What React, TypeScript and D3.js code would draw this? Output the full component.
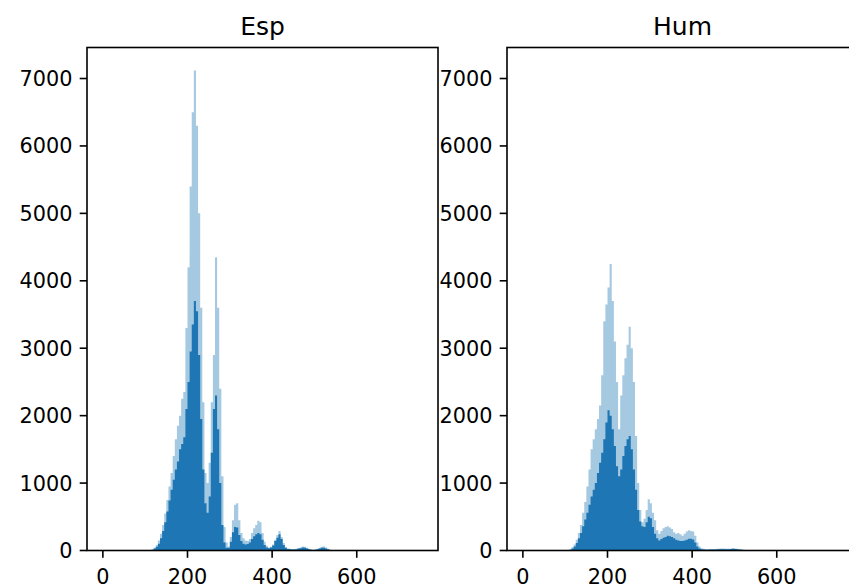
import React from 'react';
import * as d3 from 'd3';

// histogram bins: 5 units wide, first bin starts at 100
const BIN_START = 100;
const BIN_WIDTH = 5;

const espLight = [
  0, 2, 6, 15, 40, 80, 150, 250, 380, 550,
  750, 950, 1150, 1400, 1650, 1850, 2000, 2250, 2350, 3300,
  4200, 5400, 6500, 7120, 6300, 5000, 3600, 2200, 1150, 1000,
  1300, 2200, 2900, 4350, 3600, 2400, 1100, 350, 120, 60,
  200, 450, 680, 700, 450, 260, 180, 150, 140, 170,
  260, 330, 380, 440, 420, 260, 130, 70, 45, 55,
  90, 160, 230, 290, 200, 110, 50, 30, 25, 20,
  20, 25, 35, 45, 60, 55, 40, 25, 15, 12,
  15, 25, 40, 55, 60, 45, 25, 12, 8, 5,
  4, 4, 3, 3, 2, 2, 3, 3, 2, 2,
  3, 4, 5, 6, 5, 4, 3, 2, 1, 0,
];

const espDark = [
  0, 1, 4, 10, 28, 55, 100, 180, 290, 420,
  580, 740, 900, 1050, 1200, 1320, 1500, 1580, 1680, 2100,
  2500, 2950, 3350, 3700, 3550, 2900, 1950, 1200, 700, 560,
  800, 1450, 2100, 2300, 1800, 1000, 380, 120, 40, 40,
  130, 270, 350, 340, 230, 140, 100, 90, 95, 120,
  170, 210, 240, 260, 240, 160, 80, 45, 35, 45,
  75, 140, 190, 240, 170, 80, 40, 22, 18, 15,
  15, 20, 28, 35, 45, 40, 30, 18, 10, 8,
  10, 18, 28, 40, 42, 30, 18, 8, 5, 3,
  3, 2, 2, 2, 1, 1, 2, 2, 1, 1,
  2, 2, 3, 3, 3, 2, 2, 1, 1, 0,
];

const humLight = [
  2, 8, 20, 50, 90, 160, 260, 380, 560, 720,
  950, 1200, 1500, 1650, 1800, 1950, 2150, 2600, 3400, 3650,
  3900, 4250, 3700, 3100, 2500, 1800, 2300, 2600, 2850, 3050,
  3320, 3000, 2500, 1700, 1000, 600, 420, 470, 600, 760,
  700, 560, 450, 300, 250, 290, 330, 350, 360, 340,
  320, 270, 250, 260, 240, 220, 250, 280, 300, 290,
  280, 220, 120, 60, 35, 25, 20, 20, 22, 20,
  20, 25, 25, 28, 30, 30, 25, 25, 30, 35,
  30, 25, 20, 15, 10, 8, 5, 4, 3, 3,
  2, 2, 2, 1, 1, 1, 1, 1, 1, 1,
  2, 3, 3, 2, 2, 1, 1, 0, 0, 0,
];

const humDark = [
  1, 5, 12, 30, 60, 110, 180, 260, 360, 460,
  560, 680, 800, 900, 1000, 1150, 1300, 1450, 1650, 1900,
  2080, 2000, 1800, 1550, 1250, 1100, 1200, 1400, 1550, 1650,
  1700, 1500, 1200, 900, 600, 430, 360, 350, 420, 500,
  480, 350, 250, 180, 150, 170, 190, 200, 220, 210,
  200, 180, 160, 150, 140, 140, 150, 160, 175, 175,
  165, 120, 60, 30, 20, 15, 12, 12, 14, 14,
  14, 16, 18, 20, 20, 20, 18, 18, 22, 25,
  22, 18, 14, 10, 7, 5, 3, 3, 2, 2,
  1, 1, 1, 1, 1, 1, 1, 1, 0, 0,
  1, 2, 2, 1, 1, 1, 0, 0, 0, 0,
];

const titles = ['Esp', 'Hum'];
const xTicks = [0, 200, 400, 600];
const yTicks = [0, 1000, 2000, 3000, 4000, 5000, 6000, 7000];

const W = 849;
const H = 587;
const TOP = 47.5;
const BOTTOM = 550.5;
const PANEL_W = 351;
const panelLefts = [87, 507];
const BLUE = '#1f77b4';
const FONT = '"DejaVu Sans", sans-serif';
const TICK = 7.3;

type Pt = [number, number];

function toPoints(vals: number[]): Pt[] {
  const pts: Pt[] = vals.map((v, i) => [BIN_START + i * BIN_WIDTH, v]);
  pts.push([BIN_START + vals.length * BIN_WIDTH, 0]);
  return pts;
}

function Panel({ idx, light, dark }: { idx: number; light: number[]; dark: number[] }) {
  const left = panelLefts[idx];
  const x = d3.scaleLinear().domain([-37.5, 792]).range([left, left + PANEL_W]);
  const y = d3.scaleLinear().domain([0, 7460]).range([BOTTOM, TOP]);
  const area = d3
    .area<Pt>()
    .x(d => x(d[0]))
    .y0(y(0))
    .y1(d => y(d[1]))
    .curve(d3.curveStepAfter);
  const clipId = `clip-${idx}`;

  return (
    <g>
      <clipPath id={clipId}>
        <rect x={left} y={TOP} width={PANEL_W} height={BOTTOM - TOP} />
      </clipPath>
      <g clipPath={`url(#${clipId})`}>
        <path d={area(toPoints(dark)) || ''} fill={BLUE} />
        <path d={area(toPoints(light)) || ''} fill={BLUE} fillOpacity={0.4} />
      </g>

      {/* ticks */}
      {yTicks.map(t => (
        <g key={'y' + t}>
          <line x1={left - TICK} x2={left} y1={y(t)} y2={y(t)} stroke="#000" strokeWidth={1.6} />
          <text
            x={left - TICK * 2}
            y={y(t)}
            dy="0.36em"
            textAnchor="end"
            fontSize={20.8}
            fontFamily={FONT}
            fill="#000"
          >
            {t}
          </text>
        </g>
      ))}
      {xTicks.map(t => (
        <g key={'x' + t}>
          <line x1={x(t)} x2={x(t)} y1={BOTTOM} y2={BOTTOM + TICK} stroke="#000" strokeWidth={1.6} />
          <text
            x={x(t)}
            y={BOTTOM + TICK * 2 + 18.5}
            textAnchor="middle"
            fontSize={20.8}
            fontFamily={FONT}
            fill="#000"
          >
            {t}
          </text>
        </g>
      ))}

      <rect
        x={left}
        y={TOP}
        width={PANEL_W}
        height={BOTTOM - TOP}
        fill="none"
        stroke="#000"
        strokeWidth={1.6}
      />
      <text
        x={left + PANEL_W / 2}
        y={TOP - 12.5}
        textAnchor="middle"
        fontSize={25}
        fontFamily={FONT}
        fill="#000"
      >
        {titles[idx]}
      </text>
    </g>
  );
}

export default function App() {
  return (
    <div style={{ position: 'absolute', left: 0, top: 0 }}>
      <svg width={W} height={H} style={{ display: 'block', background: '#fff' }}>
        <Panel idx={0} light={espLight} dark={espDark} />
        <Panel idx={1} light={humLight} dark={humDark} />
      </svg>
    </div>
  );
}
